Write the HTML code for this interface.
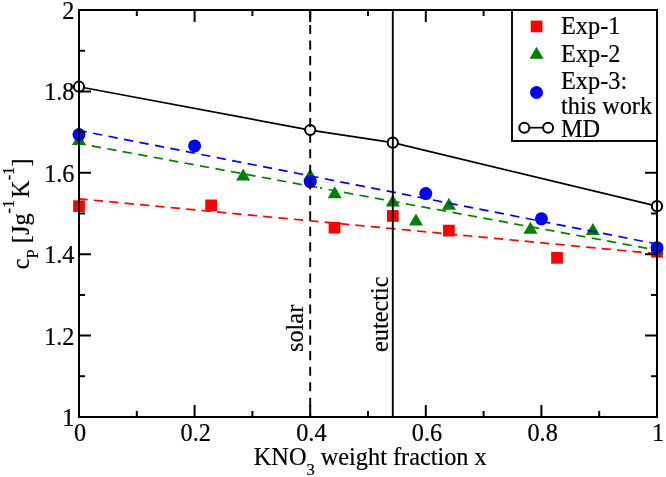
<!DOCTYPE html>
<html><head><meta charset="utf-8">
<style>
html,body{margin:0;padding:0;background:#fff;}
svg{display:block;will-change:transform;}
text{font-family:"Liberation Serif", serif;fill:#000;stroke:#000;stroke-width:0.2px;}
</style></head><body>
<svg width="666" height="477" viewBox="0 0 666 477">
<rect x="0" y="0" width="666" height="477" fill="#fff"/>

<rect x="73.15" y="200.32" width="11.7" height="11.7" fill="#ff0000"/>
<rect x="205.28" y="199.51" width="11.7" height="11.7" fill="#ff0000"/>
<rect x="328.63" y="221.89" width="11.7" height="11.7" fill="#ff0000"/>
<rect x="386.95" y="210.09" width="11.7" height="11.7" fill="#ff0000"/>
<rect x="443.07" y="224.74" width="11.7" height="11.7" fill="#ff0000"/>
<rect x="551.16" y="252.01" width="11.7" height="11.7" fill="#ff0000"/>
<rect x="651.15" y="245.91" width="11.7" height="11.7" fill="#ff0000"/>
<line x1="79.00" y1="198.85" x2="657.00" y2="253.79" stroke="#ff0000" stroke-width="1.7" stroke-dasharray="9.3 6.159" stroke-dashoffset="0.593"/>
<polygon points="72.00,144.94 86.00,144.94 79.00,132.94" fill="#008000"/>
<polygon points="236.15,180.43 250.15,180.43 243.15,168.43" fill="#008000"/>
<polygon points="303.20,180.43 317.20,180.43 310.20,168.43" fill="#008000"/>
<polygon points="327.71,198.34 341.71,198.34 334.71,186.34" fill="#008000"/>
<polygon points="385.80,206.48 399.80,206.48 392.80,194.48" fill="#008000"/>
<polygon points="408.97,225.60 422.97,225.60 415.97,213.60" fill="#008000"/>
<polygon points="441.92,209.73 455.92,209.73 448.92,197.73" fill="#008000"/>
<polygon points="523.42,233.74 537.42,233.74 530.42,221.74" fill="#008000"/>
<polygon points="585.84,234.97 599.84,234.97 592.84,222.97" fill="#008000"/>
<polygon points="650.00,254.34 664.00,254.34 657.00,242.34" fill="#008000"/>
<line x1="79.00" y1="143.50" x2="320.00" y2="187.96" stroke="#008000" stroke-width="1.7" stroke-dasharray="9.3 6.411" stroke-dashoffset="2.695"/>
<line x1="320.00" y1="187.96" x2="657.00" y2="250.13" stroke="#008000" stroke-width="1.7" stroke-dasharray="9.3 6.441" stroke-dashoffset="7.077"/>
<circle cx="79.00" cy="134.54" r="6.5" fill="#0000ff"/>
<circle cx="194.60" cy="145.94" r="6.5" fill="#0000ff"/>
<circle cx="310.20" cy="181.55" r="6.5" fill="#0000ff"/>
<circle cx="425.80" cy="193.56" r="6.5" fill="#0000ff"/>
<circle cx="541.40" cy="218.79" r="6.5" fill="#0000ff"/>
<circle cx="657.00" cy="247.69" r="6.5" fill="#0000ff"/>
<line x1="79.00" y1="130.47" x2="657.00" y2="244.02" stroke="#0000ff" stroke-width="1.7" stroke-dasharray="9.3 6.445" stroke-dashoffset="1.376"/>
<polyline points="79.00,86.72 310.20,130.06 392.80,142.68 657.00,206.17" fill="none" stroke="#000" stroke-width="1.7"/>
<circle cx="79.00" cy="86.72" r="5.1" fill="#fff" stroke="#000" stroke-width="2"/>
<circle cx="310.20" cy="130.06" r="5.1" fill="#fff" stroke="#000" stroke-width="2"/>
<circle cx="392.80" cy="142.68" r="5.1" fill="#fff" stroke="#000" stroke-width="2"/>
<circle cx="657.00" cy="206.17" r="5.1" fill="#fff" stroke="#000" stroke-width="2"/>
<line x1="310.2" y1="10" x2="310.2" y2="417" stroke="#000" stroke-width="1.9" stroke-dasharray="9.2 6.333" stroke-dashoffset="0.633"/>
<line x1="392.8" y1="10" x2="392.8" y2="417" stroke="#000" stroke-width="1.9"/>
<path d="M79.00,417v-12M79.00,10v12M136.80,417v-6M136.80,10v6M194.60,417v-12M194.60,10v12M252.40,417v-6M252.40,10v6M310.20,417v-12M310.20,10v12M368.00,417v-6M368.00,10v6M425.80,417v-12M425.80,10v12M483.60,417v-6M483.60,10v6M541.40,417v-12M541.40,10v12M599.20,417v-6M599.20,10v6M657.00,417v-12M657.00,10v12M79,417.00h12M657,417.00h-12M79,376.30h6M657,376.30h-6M79,335.60h12M657,335.60h-12M79,294.90h6M657,294.90h-6M79,254.20h12M657,254.20h-12M79,213.50h6M657,213.50h-6M79,172.80h12M657,172.80h-12M79,132.10h6M657,132.10h-6M79,91.40h12M657,91.40h-12M79,50.70h6M657,50.70h-6M79,10.00h12M657,10.00h-12" stroke="#000" stroke-width="2" fill="none"/>
<rect x="79" y="10" width="578" height="407" fill="none" stroke="#000" stroke-width="2"/>
<rect x="512" y="10" width="145" height="131" fill="#fff" stroke="#000" stroke-width="1.9"/>
<rect x="530.7" y="20.6" width="11.7" height="11.7" fill="#ff0000"/>
<polygon points="529.5,58.7 543.5,58.7 536.5,46.7" fill="#008000"/>
<circle cx="536.5" cy="92.5" r="6.5" fill="#0000ff"/>
<line x1="524.3" y1="127.7" x2="548.1" y2="127.7" stroke="#000" stroke-width="1.7"/>
<circle cx="524.3" cy="127.7" r="5" fill="#fff" stroke="#000" stroke-width="2"/>
<circle cx="548.1" cy="127.7" r="5" fill="#fff" stroke="#000" stroke-width="2"/>
<text x="561" y="33.6" font-size="24.3">Exp-1</text>
<text x="561" y="62.0" font-size="24.3">Exp-2</text>
<text x="561" y="89.0" font-size="24.3">Exp-3:</text>
<text x="561" y="113.8" font-size="24.3">this work</text>
<text x="561" y="136.5" font-size="24.3">MD</text>
<text x="80.20" y="441" font-size="24.3" text-anchor="middle">0</text>
<text x="195.80" y="441" font-size="24.3" text-anchor="middle">0.2</text>
<text x="311.40" y="441" font-size="24.3" text-anchor="middle">0.4</text>
<text x="427.00" y="441" font-size="24.3" text-anchor="middle">0.6</text>
<text x="542.60" y="441" font-size="24.3" text-anchor="middle">0.8</text>
<text x="658.20" y="441" font-size="24.3" text-anchor="middle">1</text>
<text x="74.5" y="426.00" font-size="24.3" text-anchor="end">1</text>
<text x="74.5" y="344.60" font-size="24.3" text-anchor="end">1.2</text>
<text x="74.5" y="263.20" font-size="24.3" text-anchor="end">1.4</text>
<text x="74.5" y="181.80" font-size="24.3" text-anchor="end">1.6</text>
<text x="74.5" y="100.40" font-size="24.3" text-anchor="end">1.8</text>
<text x="74.5" y="19.00" font-size="24.3" text-anchor="end">2</text>
<text x="253.8" y="464.7" font-size="24.3">KNO<tspan font-size="16.5" dy="10">3</tspan><tspan dy="-10"> weight fraction x</tspan></text>
<text transform="translate(28.7,269.2) rotate(-90)" font-size="24.3">c<tspan font-size="16.5" dy="9">P</tspan><tspan dy="-9"> [Jg</tspan><tspan font-size="16.5" dy="-14.7">-1</tspan><tspan dy="14.7" dx="-4.3"> K</tspan><tspan font-size="16.5" dy="-14.7">-1</tspan><tspan dy="14.7">]</tspan></text>
<text transform="translate(303.4,352) rotate(-90)" font-size="24.3">solar</text>
<text transform="translate(388,352) rotate(-90)" font-size="24.3">eutectic</text>
</svg></body></html>
